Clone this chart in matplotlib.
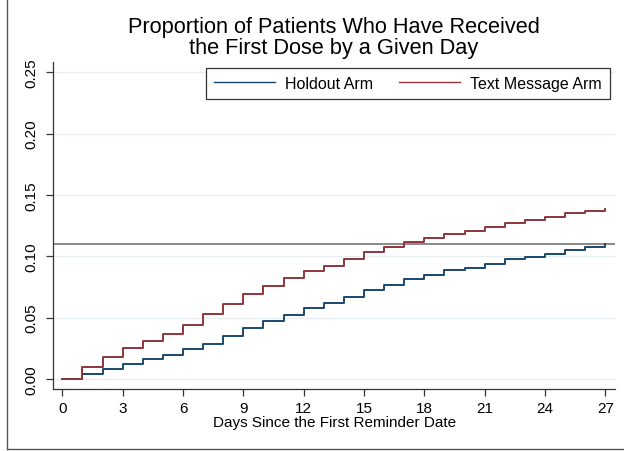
import numpy as np
import matplotlib
matplotlib.use("Agg")
import matplotlib.pyplot as plt
from matplotlib.lines import Line2D

plt.rcParams["font.family"] = ["Liberation Sans", "DejaVu Sans"]

days = list(range(28))
holdout = [0.0, 0.0041, 0.0082, 0.0125, 0.0166, 0.0196, 0.0242, 0.0289,
           0.0354, 0.0419, 0.0474, 0.0523, 0.0575, 0.0616, 0.0670, 0.0722,
           0.0768, 0.0817, 0.0850, 0.0885, 0.0904, 0.0937, 0.0975, 0.0997,
           0.1021, 0.1054, 0.1073, 0.1098]
text_msg = [0.0, 0.0098, 0.0180, 0.0253, 0.0313, 0.0368, 0.0441, 0.0531,
            0.0615, 0.0697, 0.0760, 0.0822, 0.0877, 0.0923, 0.0980, 0.1032,
            0.1073, 0.1114, 0.1152, 0.1182, 0.1209, 0.1242, 0.1272, 0.1294,
            0.1324, 0.1353, 0.1370, 0.1386]
ref_line = 0.110
xticks = list(range(0, 28, 3))
yticks = [0.0, 0.05, 0.10, 0.15, 0.20, 0.25]

navy = "#1a476f"
maroon = "#90353b"

fig = plt.figure(figsize=(6.24, 4.52), dpi=100)
ax = fig.add_axes([53.3 / 624, 1 - 390 / 452, (615 - 53.3) / 624, (390 - 63.3) / 452])

for y in yticks:
    ax.axhline(y, color="#e6eef1", lw=1.0, zorder=0)
ax.axhline(ref_line, color="#808080", lw=1.3, zorder=1)

ax.plot(days, holdout, drawstyle="steps-post", color=navy, lw=1.4, label="Holdout Arm")
ax.plot(days, text_msg, drawstyle="steps-post", color=maroon, lw=1.4, label="Text Message Arm")

ax.set_xlim(-0.45, 27.48)
ax.set_ylim(-0.00815, 0.2582)
ax.set_xticks(xticks)
ax.set_yticks(yticks)
ax.set_yticklabels([f"{v:.2f}" for v in yticks], rotation=90, va="center")
ax.tick_params(axis="both", labelsize=11, length=5, width=0.9, color="#333333")
ax.tick_params(axis="y", pad=6)
ax.tick_params(axis="x", pad=3.5)
for s in ["top", "right"]:
    ax.spines[s].set_visible(False)
for s in ["left", "bottom"]:
    ax.spines[s].set_color("#333333")
    ax.spines[s].set_linewidth(0.9)

ax.set_xlabel("Days Since the First Reminder Date", fontsize=11, labelpad=0)

leg = ax.legend(loc="upper right", bbox_to_anchor=(0.991, 0.983), ncol=2,
                fontsize=11.5, handlelength=3.8, handletextpad=0.65,
                columnspacing=1.65, fancybox=False, framealpha=1,
                edgecolor="#333333", borderpad=0.5, borderaxespad=0)
leg.get_frame().set_linewidth(0.9)
for h in leg.get_lines():
    h.set_linewidth(1.0)

fig.text(334 / 624, 1 - 38 / 452, "Proportion of Patients Who Have Received\nthe First Dose by a Given Day",
         ha="center", va="center", fontsize=15.7, linespacing=1.0)

# outer graph border (left and bottom visible)
fig.add_artist(Line2D([7 / 624, 7 / 624], [1 - 450 / 452, 1.0], transform=fig.transFigure,
                      color="#555555", lw=1.0))
fig.add_artist(Line2D([7 / 624, 1.0], [1 - 450 / 452, 1 - 450 / 452], transform=fig.transFigure,
                      color="#555555", lw=1.0))

fig.savefig("out.png", dpi=100)
